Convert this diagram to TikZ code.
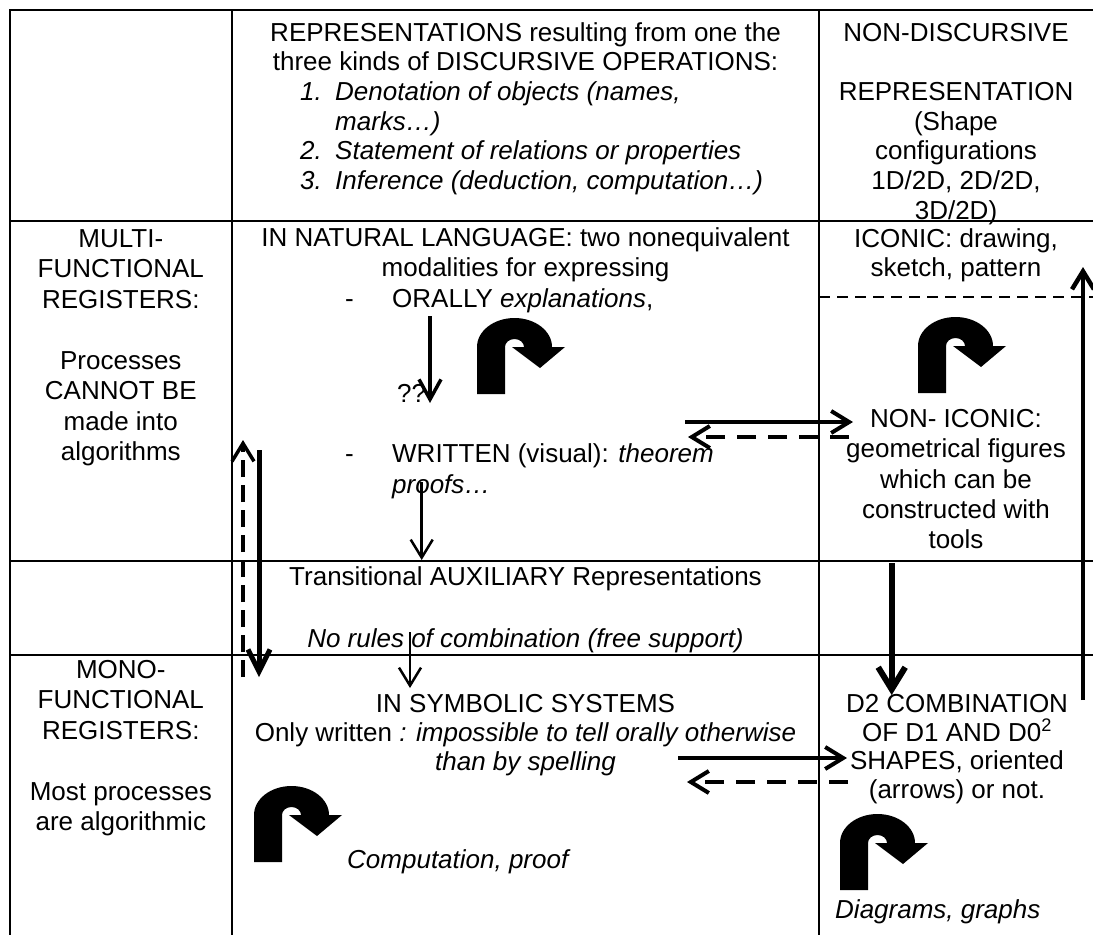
\documentclass[tikz,border=0pt]{standalone}
\usepackage{fontspec}
\setmainfont{Liberation Sans}
\usetikzlibrary{arrows.meta}
\tikzset{
  txt/.style={inner sep=0pt, font=\fontsize{26}{30}\selectfont},
  ctr/.style={txt, anchor=base},
  lft/.style={txt, anchor=base west},
  gridline/.style={line width=1.6pt},
  thindash/.style={line width=1.6pt, dash pattern=on 11pt off 7pt},
  barb/.style={-{Straight Barb[length=#1pt,width=22pt]}},
  uturn/.pic={
    \fill (0,76) -- (0,29) arc[start angle=180,end angle=0,x radius=37.5pt,y radius=29pt]
      -- (88,29) -- (63,50) -- (35,29) -- (47,29)
      arc[start angle=0,end angle=180,x radius=9.5pt,y radius=8pt] -- (28,76) -- cycle;
  }
}
\begin{document}
\begin{tikzpicture}[x=1pt,y=-1pt]
\useasboundingbox (0,0) rectangle (1093,935);
\fill[white] (0,0) rectangle (1093,935);
% table grid
\draw[gridline] (9.2,10) -- (1093,10);
\draw[gridline] (10,10) -- (10,935);
\draw[gridline] (231.7,10) -- (231.7,935);
\draw[gridline] (819,10) -- (819,935);
\draw[gridline] (10,221) -- (1093,221);
\draw[gridline] (10,561) -- (1093,561);
\draw[gridline] (10,655) -- (1093,655);
\draw[thindash] (819,296.7) -- (1093,296.7);

% header row
\node[ctr] (h1) at (525.5,41) {REPRESENTATIONS resulting from one the};
\node[ctr] (h2) at (525.5,70.7) {three kinds of DISCURSIVE OPERATIONS:};
\node[lft] (h3n) at (300,100.4) {\itshape 1.};
\node[lft] (h3) at (335,100.4) {\itshape Denotation of objects (names,};
\node[lft] (h4) at (335,130) {\itshape marks…)};
\node[lft] (h5n) at (300,159.8) {\itshape 2.};
\node[lft] (h5) at (335,159.8) {\itshape Statement of relations or properties};
\node[lft] (h6n) at (300,189.5) {\itshape 3.};
\node[lft] (h6) at (335,189.5) {\itshape Inference (deduction, computation…)};

\node[ctr] (r1) at (956,41) {NON-DISCURSIVE};
\node[ctr] (r2) at (956,100.4) {REPRESENTATION};
\node[ctr] (r3) at (956,130) {(Shape};
\node[ctr] (r4) at (956,159.8) {configurations};
\node[ctr] (r5) at (956,189.5) {1D/2D, 2D/2D,};
\node[ctr] (r6) at (956,219) {3D/2D)};

% multi-functional row
\node[ctr] (m1) at (120.8,247) {MULTI-};
\node[ctr] (m2) at (120.8,277.5) {FUNCTIONAL};
\node[ctr] (m3) at (120.8,308) {REGISTERS:};
\node[ctr] (m4) at (120.8,369) {Processes};
\node[ctr] (m5) at (120.8,399.5) {CANNOT BE};
\node[ctr] (m6) at (120.8,430) {made into};
\node[ctr] (m7) at (120.8,460.5) {algorithms};

\node[ctr] (n1) at (525.5,246) {IN NATURAL LANGUAGE: two nonequivalent};
\node[ctr] (n2) at (525.5,276.5) {modalities for expressing};
\node[lft] (n3d) at (345,307) {-};
\node[lft] (n3) at (392,307) {ORALLY \textit{explanations},};
\node[lft] (qq) at (397,402) {??};
\node[lft] (n4d) at (345,462) {-};
\node[lft] (n4) at (392,462) {WRITTEN (visual): \textit{theorem}};
\node[lft] (n5) at (392,493) {\itshape proofs…};

\node[ctr] (i1) at (956,247) {ICONIC: drawing,};
\node[ctr] (i2) at (956,276) {sketch, pattern};
\node[ctr] (g1) at (956,427) {NON- ICONIC:};
\node[ctr] (g2) at (956,457) {geometrical figures};
\node[ctr] (g3) at (956,488) {which can be};
\node[ctr] (g4) at (956,518) {constructed with};
\node[ctr] (g5) at (956,548) {tools};

% transitional row
\node[ctr] (t1) at (525.5,585) {Transitional AUXILIARY Representations};
\node[ctr] (t2) at (525.5,647) {\itshape No rules of combination (free support)};

% mono-functional row
\node[ctr] (o1) at (120.8,678) {MONO-};
\node[ctr] (o2) at (120.8,708.5) {FUNCTIONAL};
\node[ctr] (o3) at (120.8,739) {REGISTERS:};
\node[ctr] (o4) at (120.8,800) {Most processes};
\node[ctr] (o5) at (120.8,830.5) {are algorithmic};

\node[ctr] (s1) at (525.5,712) {IN SYMBOLIC SYSTEMS};
\node[ctr] (s2) at (525.5,741) {Only written \textit{: impossible to tell orally otherwise}};
\node[ctr] (s3) at (525.5,770) {\itshape than by spelling};
\node[lft] (s4) at (347,868) {\itshape Computation, proof};

\node[ctr] (d1) at (957,712) {D2 COMBINATION};
\node[ctr] (d2) at (957,741) {OF D1 AND D0\textsuperscript{2}};
\node[ctr] (d3) at (957,769) {SHAPES, oriented};
\node[ctr] (d4) at (957,798) {(arrows) or not.};
\node[lft] (d5) at (835,918) {\itshape Diagrams, graphs};

% u-turn icons
\pic (u1) at (477,318) {uturn};
\pic (u2) at (918,317) {uturn};
\pic (u3) at (254,786) {uturn};
\pic (u4) at (840,814) {uturn};

% connector end points
\coordinate (b1) at (430,316);  \coordinate (b2) at (430,403);
\coordinate (c1) at (421.7,482); \coordinate (c2) at (421.7,560);
\coordinate (e1) at (410,632);  \coordinate (e2) at (410,688);
\coordinate (l1) at (243,677);  \coordinate (l2) at (243,440);
\coordinate (k1) at (259,450);  \coordinate (k2) at (259,677);
\coordinate (hs1) at (685,422); \coordinate (hs2) at (853,422);
\coordinate (hd1) at (849,437); \coordinate (hd2) at (688,437);
\coordinate (fs1) at (678,758); \coordinate (fs2) at (847,758);
\coordinate (fd1) at (848,782); \coordinate (fd2) at (687,782);
\coordinate (v1) at (891.7,563); \coordinate (v2) at (891.7,695);
\coordinate (w1) at (1083,700); \coordinate (w2) at (1083,267);

% connectors
\draw[line width=3.5pt, barb=20] (b1) -- (b2);
\draw[line width=2.5pt, barb=18] (c1) -- (c2);
\draw[line width=2.5pt, barb=18] (e1) -- (e2);
\draw[line width=3.5pt, dash pattern=on 17pt off 8pt, barb=18] (l1) -- (l2);
\draw[line width=5pt, -{Straight Barb[length=22pt,width=22pt]}] (k1) -- (k2);
\draw[line width=4pt, barb=18] (hs1) -- (hs2);
\draw[line width=4pt, dash pattern=on 19pt off 12pt, barb=18] (hd1) -- (hd2);
\draw[line width=4pt, barb=18] (fs1) -- (fs2);
\draw[line width=4pt, dash pattern=on 19pt off 12pt, barb=18] (fd1) -- (fd2);
\draw[line width=6pt, -{Straight Barb[length=22pt,width=27pt]}] (v1) -- (v2);
\draw[line width=4.5pt, barb=18] (w1) -- (w2);
\end{tikzpicture}
\end{document}
